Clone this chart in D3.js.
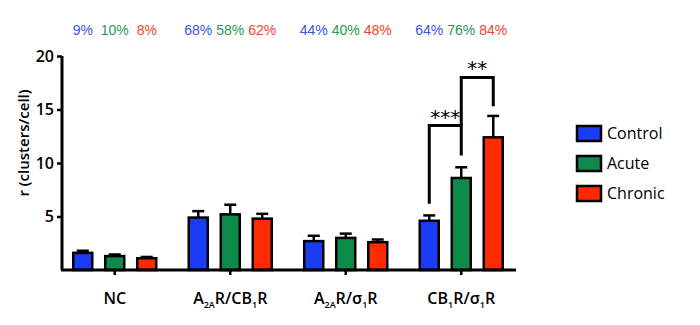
<!DOCTYPE html>
<html><head><meta charset="utf-8">
<script src="https://cdn.jsdelivr.net/npm/d3@7"></script>
<style>body{margin:0;background:#fff}</style>
</head><body>
<svg id="c" width="700" height="325"></svg>
<script>
const groups = ["NC", "A2AR/CB1R", "A2AR/s1R", "CB1R/s1R"];
const series = ["Control", "Acute", "Chronic"];
const colors = ["#1a3cf5", "#0e8a4a", "#ff2a00"];
const textColors = ["#3a55e0", "#1f9a55", "#f0462a"];
const control = [1.6, 4.9, 2.7, 4.6];
const acute = [1.3, 5.2, 3.0, 8.6];
const chronic = [1.1, 4.8, 2.6, 12.4];
const controlErr = [0.2, 0.6, 0.5, 0.5];
const acuteErr = [0.15, 0.9, 0.4, 1.0];
const chronicErr = [0.12, 0.45, 0.25, 2.0];
const pctControl = ["9%", "68%", "44%", "64%"];
const pctAcute = ["10%", "58%", "40%", "76%"];
const pctChronic = ["8%", "62%", "48%", "84%"];
const yTicks = [5, 10, 15, 20];

const vals = [control, acute, chronic];
const errs = [controlErr, acuteErr, chronicErr];
const pcts = [pctControl, pctAcute, pctChronic];

const svg = d3.select("#c");
const x = d3.scaleBand().domain(groups).range([57, 519]).padding(0);
const xs = d3.scalePoint().domain(series).range([-32, 32]);
const y = d3.scaleLinear().domain([0, 20]).range([270, 56]);
const barW = 19;
const cx = (g, s) => x(g) + x.bandwidth() / 2 + xs(s);

// bars
const data = [];
groups.forEach((g, gi) => series.forEach((s, si) => data.push({g, s, si, v: vals[si][gi], e: errs[si][gi], p: pcts[si][gi]})));

const bars = svg.append("g");
bars.selectAll("line.err").data(data).join("line")
  .attr("x1", d => cx(d.g, d.s)).attr("x2", d => cx(d.g, d.s))
  .attr("y1", d => y(d.v)).attr("y2", d => y(d.v + d.e))
  .attr("stroke", "#000").attr("stroke-width", 2.5);
bars.selectAll("line.cap").data(data).join("line")
  .attr("x1", d => cx(d.g, d.s) - 6).attr("x2", d => cx(d.g, d.s) + 6)
  .attr("y1", d => y(d.v + d.e)).attr("y2", d => y(d.v + d.e))
  .attr("stroke", "#000").attr("stroke-width", 2.5);
bars.selectAll("rect").data(data).join("rect")
  .attr("x", d => cx(d.g, d.s) - barW / 2).attr("width", barW)
  .attr("y", d => y(d.v)).attr("height", d => y(0) - y(d.v))
  .attr("fill", d => colors[d.si]).attr("stroke", "#000").attr("stroke-width", 2.5);

// percentages
svg.append("g").selectAll("text").data(data).join("text")
  .attr("x", d => cx(d.g, d.s)).attr("y", 35)
  .attr("text-anchor", "middle")
  .attr("font-family", "Liberation Sans, Arial, sans-serif").attr("font-size", 14)
  .attr("fill", d => textColors[d.si]).text(d => d.p);

// y axis
const yAxis = d3.axisLeft(y).tickValues(yTicks).tickSize(5).tickPadding(3);
const gy = svg.append("g").attr("transform", "translate(62,0)").call(yAxis);
gy.select(".domain").attr("d", `M0,${y(20)}V${y(0)}`).attr("stroke-width", 3).attr("stroke", "#000");
gy.selectAll(".tick line").attr("stroke-width", 2.5);
gy.selectAll(".tick text").attr("font-family", "Open Sans, sans-serif").attr("font-weight", 600).attr("font-size", 16).attr("fill", "#000");

// x axis
const xAxis = d3.axisBottom(x).tickSize(5).tickFormat("");
const gx = svg.append("g").attr("transform", `translate(0,${y(0)})`).call(xAxis);
gx.select(".domain").attr("d", "M61,0H516").attr("stroke-width", 3).attr("stroke", "#000");
gx.selectAll(".tick line").attr("stroke-width", 2.5);

// category labels with subscripts
const labelParts = {
  "NC": [["NC", false]],
  "A2AR/CB1R": [["A", false], ["2A", true], ["R/CB", false], ["1", true], ["R", false]],
  "A2AR/s1R": [["A", false], ["2A", true], ["R/σ", false], ["1", true], ["R", false]],
  "CB1R/s1R": [["CB", false], ["1", true], ["R/σ", false], ["1", true], ["R", false]]
};
groups.forEach(g => {
  const t = svg.append("text").attr("x", x(g) + x.bandwidth() / 2).attr("y", 304)
    .attr("text-anchor", "middle").attr("font-family", "Open Sans, sans-serif")
    .attr("font-weight", 600).attr("font-size", 16).attr("fill", "#000");
  labelParts[g].forEach(([s, sub]) => {
    const ts = t.append("tspan").text(s);
    if (sub) ts.attr("font-size", 9).attr("dy", 4);
    else if (t.selectAll("tspan").size() > 1) ts.attr("dy", -4);
  });
});

// y title
svg.append("text").attr("transform", "translate(29,143) rotate(-90)")
  .attr("text-anchor", "middle").attr("font-family", "Open Sans, sans-serif")
  .attr("font-weight", 600).attr("font-size", 15).attr("fill", "#000")
  .text("r (clusters/cell)");

// significance brackets (CB1R/s1R group)
const g4 = groups[3];
const sig = svg.append("g").attr("fill", "none").attr("stroke", "#000").attr("stroke-width", 3);
const xb = cx(g4, "Control"), xg = cx(g4, "Acute"), xr = cx(g4, "Chronic");
sig.append("path").attr("d", `M${xb},${y(6.2)}V${y(13.5)}H${xg}V${y(10.7)}`);
sig.append("path").attr("d", `M${xg},${y(13.5)}V${y(18)}H${xr}V${y(15.3)}`);
svg.append("text").attr("x", (xb + xg) / 2).attr("y", y(13.5) - 2).attr("text-anchor", "middle")
  .attr("font-family", "DejaVu Sans, sans-serif").attr("font-size", 20).attr("fill", "#000").text("***");
svg.append("text").attr("x", (xg + xr) / 2).attr("y", y(18) - 2).attr("text-anchor", "middle")
  .attr("font-family", "DejaVu Sans, sans-serif").attr("font-size", 20).attr("fill", "#000").text("**");

// legend
const lg = svg.append("g");
series.forEach((s, i) => {
  const yy = 126 + i * 30;
  lg.append("rect").attr("x", 577).attr("y", yy).attr("width", 24).attr("height", 15)
    .attr("fill", colors[i]).attr("stroke", "#000").attr("stroke-width", 2.5);
  lg.append("text").attr("x", 607).attr("y", yy + 13).attr("font-family", "Open Sans, sans-serif")
    .attr("font-weight", 500).attr("font-size", 16).attr("fill", "#000").text(s);
});
</script>
</body></html>
